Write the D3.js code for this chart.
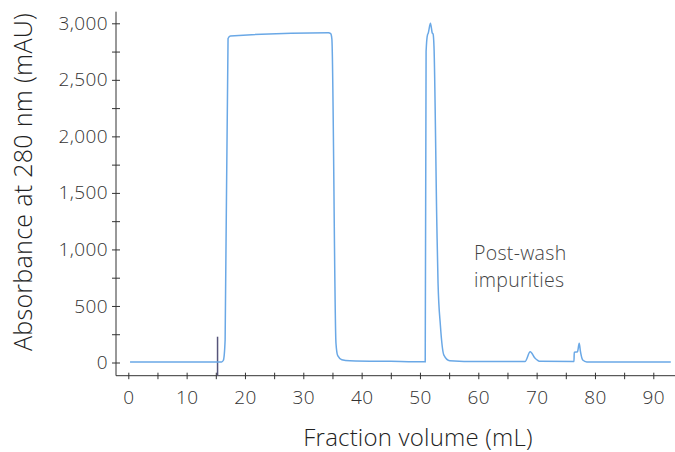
<!DOCTYPE html>
<html>
<head>
<meta charset="utf-8">
<script src="https://cdn.jsdelivr.net/npm/d3@7"></script>
<style>
  body { margin: 0; background: #fff; }
  svg text { font-family: "Open Sans", "Liberation Sans", sans-serif; font-weight: 300; }
</style>
</head>
<body>
<div class="chart"></div>
<script>
// UV trace (mL, mAU)
let volume = [0.3, 16.0, 16.3, 16.6, 17.1, 17.5, 34.3, 34.7, 34.9, 35.6, 35.9, 36.6, 38.0, 45.0, 50.9,
  51.05, 51.3, 51.4, 51.8, 52.1, 52.25, 52.4, 52.9, 53.1, 53.5, 54.1, 55.1, 60.0, 68.0, 68.9, 69.7, 70.6,
  76.4, 76.45, 77.0, 77.3, 77.5, 77.9, 78.6, 93.0];
let absorbance = [5, 5, 20, 200, 2865, 2888, 2916, 2908, 2860, 170, 60, 25, 16, 10, 6,
  2750, 2900, 2910, 3000, 2915, 2905, 2800, 1200, 700, 330, 66, 16, 8, 8, 95, 40, 10,
  8, 90, 95, 170, 100, 22, 5, 5];

let markerVolume = 15.3;
let markerHeight = 228;

let yTicks = d3.range(0, 3001, 250);
let xTicks = d3.range(0, 91, 5);

let margin = {top: 0, left: 116};
let width = 675;
let height = 452;

let svg = d3.select('.chart')
  .append('svg')
    .attr('width', width)
    .attr('height', height);

let xScale = d3.scaleLinear()
  .domain([0, 90])
  .range([128.3, 653.3]);

let yScale = d3.scaleLinear()
  .domain([0, 3000])
  .range([362.5, 23.3]);

let axisColor = '#333';

// y axis
let yAxis = d3.axisLeft(yScale)
  .tickValues(yTicks)
  .tickSizeOuter(0)
  .tickSize(4)
  .tickFormat(d => d % 500 === 0 ? d3.format(',')(d) : '');

let gy = svg.append('g')
  .attr('transform', `translate(${margin.left}, 0)`)
  .call(yAxis);
gy.select('.domain').remove();
gy.append('line')
  .attr('y1', 11.7)
  .attr('y2', 375.7)
  .attr('stroke', axisColor);
gy.selectAll('.tick line').attr('x1', -4).attr('x2', 4).attr('stroke', axisColor);
gy.selectAll('.tick text')
  .attr('x', -8)
  .style('font-size', '19px')
  .style('letter-spacing', '0.4px')
  .attr('fill', '#333');

// x axis
let xAxis = d3.axisBottom(xScale)
  .tickValues(xTicks)
  .tickSizeOuter(0)
  .tickSize(3)
  .tickFormat(d => d % 10 === 0 ? d : '');

let gx = svg.append('g')
  .attr('transform', `translate(0, 375.7)`)
  .call(xAxis);
gx.select('.domain').remove();
gx.append('line')
  .attr('x1', margin.left)
  .attr('x2', width)
  .attr('stroke', axisColor);
gx.selectAll('.tick line').attr('y1', -3).attr('y2', 3.5).attr('stroke', axisColor);
gx.selectAll('.tick text')
  .attr('y', 15)
  .style('font-size', '19px')
  .style('letter-spacing', '0.4px')
  .attr('fill', '#333');

// injection marker
svg.append('line')
  .attr('x1', xScale(markerVolume))
  .attr('x2', xScale(markerVolume))
  .attr('y1', yScale(markerHeight))
  .attr('y2', 375.7)
  .attr('stroke', '#56557a')
  .attr('stroke-width', 1.5);

// trace
let trace = volume.map((v, i) => [v, absorbance[i]]);
let line = d3.line()
  .x(d => xScale(d[0]))
  .y(d => yScale(d[1]))
  .curve(d3.curveMonotoneX);

svg.append('path')
  .datum(trace)
  .attr('d', line)
  .attr('fill', 'none')
  .attr('stroke', '#6aa8e6')
  .attr('stroke-width', 1.5);

// annotation
let note = svg.append('text')
  .attr('x', 474)
  .attr('y', 260)
  .attr('fill', '#444')
  .style('font-size', '19.5px')
  .style('letter-spacing', '0.3px');
note.append('tspan').attr('x', 474).text('Post-wash');
note.append('tspan').attr('x', 474).attr('dy', 27).text('impurities');

// axis titles
svg.append('text')
  .attr('transform', 'translate(32, 182) rotate(-90)')
  .attr('text-anchor', 'middle')
  .attr('fill', '#222')
  .style('font-size', '25px')
  .style('letter-spacing', '0.3px')
  .text('Absorbance at 280 nm (mAU)');

svg.append('text')
  .attr('x', 418)
  .attr('y', 446)
  .attr('text-anchor', 'middle')
  .attr('fill', '#222')
  .style('font-size', '24px')
  .style('letter-spacing', '0.2px')
  .text('Fraction volume (mL)');
</script>
</body>
</html>
